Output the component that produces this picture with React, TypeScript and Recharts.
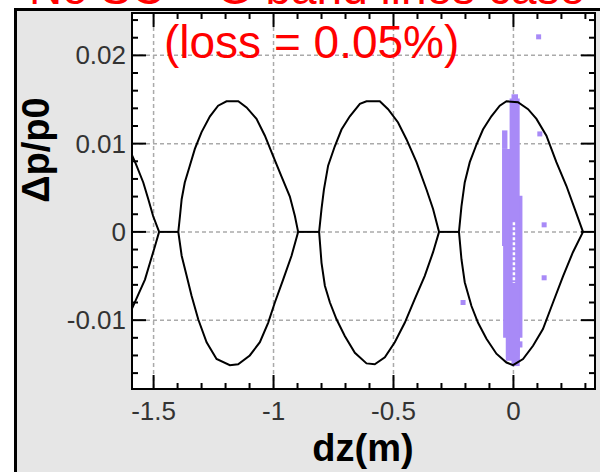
import React from "react";
import {
  ScatterChart,
  Scatter,
  XAxis,
  YAxis,
  CartesianGrid,
  ReferenceArea,
  ReferenceLine,
} from "recharts";

// layout of the plot frame (pixels)
const PLOT_TOP = 13;
const PLOT_LEFT = 132;
const PLOT_RIGHT = 595;
const PLOT_BOTTOM = 389;

const X_DOMAIN = [-1.59, 0.34];
const Y_DOMAIN = [-0.0178, 0.0248];

// axis ticks
const xTicks = [-1.5, -1.4, -1.3, -1.2, -1.1, -1, -0.9, -0.8, -0.7, -0.6, -0.5, -0.4, -0.3, -0.2, -0.1, 0, 0.1, 0.2, 0.3];
const xMajor = [-1.5, -1, -0.5, 0];
const xTickLabels = ["-1.5", "-1", "-0.5", "0"];
const yTicks = [-0.016, -0.014, -0.012, -0.01, -0.008, -0.006, -0.004, -0.002, 0, 0.002, 0.004, 0.006, 0.008, 0.01, 0.012, 0.014, 0.016, 0.018, 0.02, 0.022, 0.024];
const yMajor = [-0.01, 0, 0.01, 0.02];
const yTickLabels = ["-0.01", "0", "0.01", "0.02"];

// separatrix, [dz, dp/p0]
const leftUpper = [[-1.59, 0.0087], [-1.574, 0.0077], [-1.543, 0.0056], [-1.522, 0.0037], [-1.502, 0.0018], [-1.477, 0]];
const leftLower = [[-1.59, -0.0087], [-1.564, -0.0071], [-1.536, -0.0054], [-1.515, -0.0035], [-1.494, -0.0016], [-1.477, 0]];

const bucket1Upper = [
  [-1.397, 0], [-1.39, 0.0018], [-1.383, 0.0037], [-1.37, 0.0056], [-1.349, 0.0075], [-1.328, 0.0094],
  [-1.3, 0.0113], [-1.265, 0.0131], [-1.231, 0.0143], [-1.196, 0.0148], [-1.147, 0.0148], [-1.1125, 0.0141],
  [-1.071, 0.0128], [-1.036, 0.0109], [-1.002, 0.0086], [-0.967, 0.0063], [-0.932, 0.004], [-0.911, 0.0018], [-0.8975, 0],
];
const bucket1Lower = [
  [-1.397, 0], [-1.383, -0.0027], [-1.362, -0.005], [-1.342, -0.0072], [-1.314, -0.0099], [-1.279, -0.0125],
  [-1.2375, -0.0144], [-1.182, -0.0151], [-1.1475, -0.015], [-1.099, -0.014], [-1.057, -0.0125], [-1.0225, -0.0103],
  [-0.9945, -0.008], [-0.96, -0.0054], [-0.925, -0.0027], [-0.8975, 0],
];

const bucket2Upper = [
  [-0.81, 0], [-0.8, 0.0026], [-0.79, 0.0048], [-0.7725, 0.0075], [-0.7446, 0.0097], [-0.7167, 0.0116],
  [-0.682, 0.0131], [-0.64, 0.0145], [-0.6125, 0.0148], [-0.557, 0.0148], [-0.5225, 0.0139], [-0.481, 0.0124],
  [-0.446, 0.0105], [-0.404, 0.0079], [-0.3625, 0.0048], [-0.335, 0.0026], [-0.31, 0],
];
const bucket2Lower = [
  [-0.81, 0], [-0.8, -0.0035], [-0.786, -0.0061], [-0.765, -0.008], [-0.7375, -0.0099], [-0.703, -0.0118],
  [-0.661, -0.0137], [-0.6125, -0.0149], [-0.578, -0.015], [-0.536, -0.0142], [-0.4946, -0.0125], [-0.453, -0.0103],
  [-0.411, -0.0076], [-0.37, -0.005], [-0.335, -0.0023], [-0.31, 0],
];

const bucket3Upper = [
  [-0.227, 0], [-0.2167, 0.0029], [-0.203, 0.0056], [-0.182, 0.0079], [-0.154, 0.0099], [-0.127, 0.0116],
  [-0.092, 0.0131], [-0.057, 0.0143], [-0.029, 0.0148], [0.019, 0.0147], [0.061, 0.0139], [0.096, 0.0128],
  [0.1375, 0.0109], [0.179, 0.0079], [0.221, 0.0052], [0.2555, 0.0026], [0.29, 0],
];
const bucket3Lower = [
  [-0.227, 0], [-0.2167, -0.0031], [-0.203, -0.0057], [-0.175, -0.0084], [-0.1475, -0.0103], [-0.1125, -0.0121],
  [-0.071, -0.0138], [-0.029, -0.0148], [-0.0017, -0.0151], [0.04, -0.0144], [0.0817, -0.0129], [0.123, -0.011],
  [0.165, -0.008], [0.207, -0.005], [0.248, -0.0023], [0.29, 0],
];

const links = [
  [[-1.477, 0], [-1.397, 0]],
  [[-0.8975, 0], [-0.81, 0]],
  [[-0.31, 0], [-0.227, 0]],
];

// dense particle core near dz = 0: [dz1, dz2, dp1, dp2]
const coreBands = [
  [-0.0475, 0.0, -0.0016, 0.0094],
  [-0.0475, -0.025, 0.0094, 0.0115],
  [-0.043, 0.0, -0.012, -0.0014],
  [0.0, 0.0375, -0.012, 0.0041],
  [-0.032, 0.027, -0.0146, -0.0118],
  [-0.008, 0.026, -0.0152, -0.0144],
  [0.019, 0.0375, -0.0131, -0.0124],
  [-0.008, 0.019, 0.0149, 0.0156],
  [-0.016, 0.026, -0.0141, 0.0151],
];

// lost / stray particles
const strayDz = [0.105, 0.11, 0.128, 0.128, -0.21];
const strayDp = [0.0221, 0.0111, 0.0008, -0.0052, -0.008];

const PURPLE = "#a88af7";
const FONT = "'Liberation Sans', Arial, sans-serif";

const toPts = (arr: number[][]) => arr.map(([dz, dp]) => ({ dz, dp }));
const strays = strayDz.map((dz, i) => ({ dz, dp: strayDp[i] }));

const curves = [leftUpper, leftLower, bucket1Upper, bucket1Lower, bucket2Upper, bucket2Lower, bucket3Upper, bucket3Lower, ...links];

const XTick = (props: any) => {
  const { x, y, payload } = props;
  const i = xMajor.findIndex((v) => Math.abs(v - payload.value) < 1e-6);
  const len = i >= 0 ? 14 : 6;
  return (
    <g>
      <line x1={x} y1={y} x2={x} y2={y - len} stroke="#000" strokeWidth={2} />
      <line x1={x} y1={PLOT_TOP} x2={x} y2={PLOT_TOP + len} stroke="#000" strokeWidth={2} />
      {i >= 0 && (
        <text x={x} y={y + 31} textAnchor="middle" fontSize={26} fill="#333" fontFamily={FONT}>
          {xTickLabels[i]}
        </text>
      )}
    </g>
  );
};

const YTick = (props: any) => {
  const { x, y, payload } = props;
  const i = yMajor.findIndex((v) => Math.abs(v - payload.value) < 1e-9);
  const len = i >= 0 ? 14 : 6;
  return (
    <g>
      <line x1={x} y1={y} x2={x + len} y2={y} stroke="#000" strokeWidth={2} />
      <line x1={PLOT_RIGHT} y1={y} x2={PLOT_RIGHT - len} y2={y} stroke="#000" strokeWidth={2} />
      {i >= 0 && (
        <text x={x - 6} y={y + 9} textAnchor="end" fontSize={26} fill="#333" fontFamily={FONT}>
          {yTickLabels[i]}
        </text>
      )}
    </g>
  );
};

const noDot = () => <g />;
const square = (p: any) => <rect x={p.cx - 2.5} y={p.cy - 2.5} width={5} height={5} fill={PURPLE} />;

export default function App() {
  return (
    <div style={{ position: "absolute", left: 0, top: 0, width: 600, height: 472, overflow: "hidden", background: "#fff" }}>
      <div
        style={{
          position: "absolute",
          left: 14,
          top: 8,
          width: 600,
          height: 480,
          background: "#e6e6e6",
          borderLeft: "3px solid #000",
          borderTop: "3px solid #000",
        }}
      />
      <div style={{ position: "absolute", left: 0, top: 0 }}>
        <ScatterChart
          width={600}
          height={472}
          margin={{ top: PLOT_TOP, right: 600 - PLOT_RIGHT, bottom: 0, left: 0 }}
        >
          <CartesianGrid
            fill="#fff"
            fillOpacity={1}
            stroke="#aaa"
            strokeDasharray="4 3"
            strokeWidth={1.5}
            horizontalValues={yMajor}
            verticalValues={xMajor}
          />
          <XAxis
            type="number"
            dataKey="dz"
            domain={X_DOMAIN}
            ticks={xTicks}
            allowDataOverflow
            height={472 - PLOT_BOTTOM}
            axisLine={false}
            tickLine={false}
            tickSize={0}
            tickMargin={0}
            interval={0}
            tick={<XTick />}
          />
          <YAxis
            type="number"
            dataKey="dp"
            domain={Y_DOMAIN}
            ticks={yTicks}
            allowDataOverflow
            width={PLOT_LEFT}
            axisLine={false}
            tickLine={false}
            tickSize={0}
            tickMargin={0}
            interval={0}
            tick={<YTick />}
          />
          {curves.map((c, i) => (
            <Scatter
              key={i}
              data={toPts(c)}
              line={{ stroke: "#000", strokeWidth: 2 }}
              shape={noDot}
              isAnimationActive={false}
            />
          ))}
          {coreBands.map((b, i) => (
            <ReferenceArea key={"b" + i} x1={b[0]} x2={b[1]} y1={b[2]} y2={b[3]} fill={PURPLE} fillOpacity={1} stroke="none" />
          ))}
          <ReferenceLine
            segment={[{ x: 0.002, y: 0.0011 }, { x: 0.002, y: -0.0058 }]}
            stroke="#fff"
            strokeWidth={2.5}
            strokeDasharray="3 2"
          />
          <Scatter data={strays} shape={square} isAnimationActive={false} />
          <ReferenceArea
            x1={X_DOMAIN[0]}
            x2={X_DOMAIN[1]}
            y1={Y_DOMAIN[0]}
            y2={Y_DOMAIN[1]}
            fill="none"
            stroke="#000"
            strokeWidth={2}
          />
        </ScatterChart>
      </div>
      <svg width={600} height={472} style={{ position: "absolute", left: 0, top: 0, pointerEvents: "none" }}>
        <text x={307} y={4} textAnchor="middle" fontSize={46} fill="#ff0000" fontFamily={FONT}>
          No SC + G band lines case
        </text>
        <text x={164} y={58} fontSize={46} fill="#ff0000" fontFamily={FONT}>
          (loss = 0.05%)
        </text>
        <text x={363} y={461} textAnchor="middle" fontSize={38} fontWeight="bold" fill="#000" fontFamily={FONT}>
          dz(m)
        </text>
        <text
          transform="translate(49,150) rotate(-90)"
          textAnchor="middle"
          fontSize={38}
          fontWeight="bold"
          fill="#000"
          fontFamily={FONT}
        >
          Δp/p0
        </text>
      </svg>
    </div>
  );
}
